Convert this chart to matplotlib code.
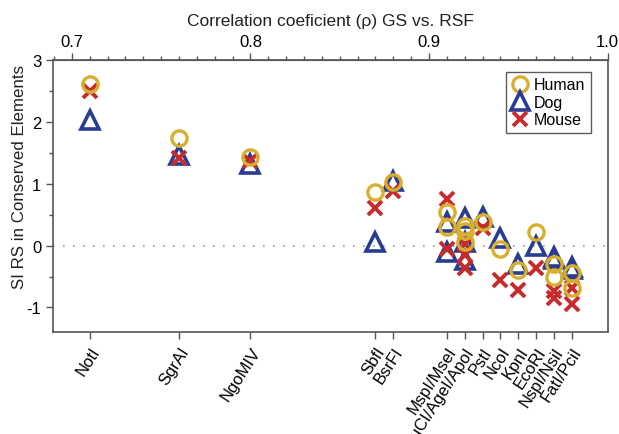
import numpy as np
import matplotlib.pyplot as plt
from matplotlib.ticker import MultipleLocator

plt.rcParams['font.family'] = ['Liberation Sans', 'DejaVu Sans']
plt.rcParams['axes.unicode_minus'] = False

# enzymes and their correlation coefficient (rho) GS vs. RSF
labels = ['NotI', 'SgrAI', 'NgoMIV', 'SbfI', 'BsrFI', 'MspI/MseI', 'MluCI/AgeI/ApoI',
          'PstI', 'NcoI', 'KpnI', 'EcoRI', 'NspI/NsiI', 'FatI/PciI']
rho = [0.71, 0.76, 0.80, 0.87, 0.88, 0.91, 0.92, 0.93, 0.94, 0.95, 0.96, 0.97, 0.98]

# SI RS values, one list per label (several enzymes share a label)
human = [[2.61], [1.73], [1.43], [0.87], [1.03], [0.55, 0.30], [0.32, 0.23, 0.05],
         [0.38], [-0.06], [-0.40], [0.22], [-0.29, -0.50], [-0.45, -0.68]]
dog = [[2.03], [1.46], [1.32], [0.05], [1.05], [0.38, -0.10], [0.44, 0.05, -0.24],
       [0.46], [0.12], [-0.30], [-0.01], [-0.18, -0.22], [-0.34, -0.38]]
mouse = [[2.50], [1.42], [1.36], [0.61], [0.88], [0.76, -0.06], [0.02, -0.15, -0.37],
         [0.29], [-0.56], [-0.72], [-0.37], [-0.74, -0.85], [-0.68, -0.94]]


def flat(vals):
    xs, ys = [], []
    for r, v in zip(rho, vals):
        for y in v:
            xs.append(r)
            ys.append(y)
    return xs, ys


fig = plt.figure(figsize=(6.19, 4.35), dpi=100)
ax = fig.add_axes([0.0856, 0.234, 0.896, 0.626])

ax.axhline(0, color='#9a9a9a', lw=1.2, ls=(0, (1, 5)), zorder=1)

x, y = flat(dog)
ax.plot(x, y, '^', ms=12.5, mfc='none', mec='#283c91', mew=2.6, ls='none', label='Dog', zorder=3)
x, y = flat(mouse)
ax.plot(x, y, 'x', ms=10, mec='#c82b2b', mew=2.8, ls='none', label='Mouse', zorder=4)
x, y = flat(human)
ax.plot(x, y, 'o', ms=11, mfc='none', mec='#d8ae2e', mew=2.4, ls='none', label='Human', zorder=5)

ax.set_xlim(0.6894, 1.0)
ax.set_ylim(-1.4, 3)

ax.yaxis.set_major_locator(MultipleLocator(1))
ax.yaxis.set_minor_locator(MultipleLocator(0.5))
ax.set_ylabel('SI RS in Conserved Elements', fontsize=12.2, color='#222222')
ax.yaxis.set_label_coords(-0.047, 0.575)

# bottom: enzyme names at their rho positions
ax.set_xticks(rho)
ax.set_xticklabels(labels, rotation=57, ha='right', rotation_mode='anchor', fontsize=12)

# top: rho scale
top = ax.secondary_xaxis('top')
top.set_xticks([0.7, 0.8, 0.9, 1.0])
top.set_xticklabels(['0.7', '0.8', '0.9', '1.0'])
top.xaxis.set_minor_locator(MultipleLocator(0.01))
top.set_xlabel('Correlation coeficient (\u03c1) GS vs. RSF', fontsize=12.5, color='#222222', labelpad=6)
top.tick_params(which='major', length=5, width=1, color='#555555', labelsize=12, pad=3)
top.tick_params(which='minor', length=3, width=1, color='#555555')
top.spines['top'].set_color('#555555')

for s in ax.spines.values():
    s.set_color('#555555')
    s.set_linewidth(1.2)
ax.tick_params(which='major', length=5, width=1, color='#555555', labelsize=12)
ax.tick_params(which='minor', length=3, width=1, color='#555555')

h, l = ax.get_legend_handles_labels()
order = [2, 0, 1]
leg = ax.legend([h[i] for i in order], [l[i] for i in order], loc='upper right',
                bbox_to_anchor=(0.970, 0.956), fontsize=11.5, fancybox=False,
                edgecolor='#333333', handlelength=1.0, handletextpad=0.4,
                borderpad=0.35, labelspacing=0.15, borderaxespad=0)
leg.get_frame().set_linewidth(1.0)

fig.savefig('out.png', dpi=100)
